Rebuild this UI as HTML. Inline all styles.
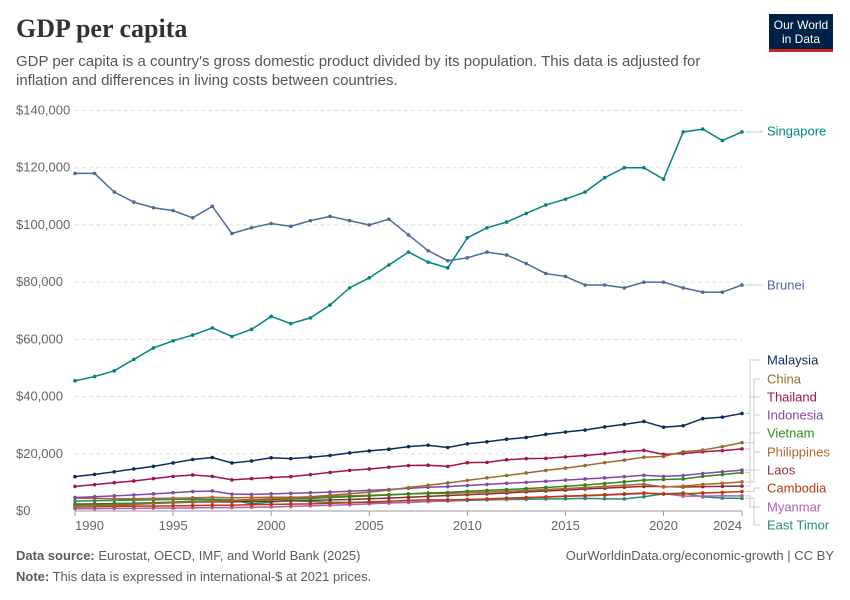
<!DOCTYPE html>
<html><head><meta charset="utf-8"><style>
body{margin:0;background:#fff;font-family:"Liberation Sans",sans-serif;}
#wrap{position:relative;width:850px;height:600px;overflow:hidden;}
</style></head><body>
<div id="wrap">
<div style="position:absolute;left:16px;top:14px;font-family:'Liberation Serif',serif;font-size:26px;font-weight:bold;color:#333;">GDP per capita</div>
<div style="position:absolute;left:16px;top:52px;width:720px;font-size:15px;line-height:19px;color:#555;">GDP per capita is a country's gross domestic product divided by its population. This data is adjusted for inflation and differences in living costs between countries.</div>
<div style="position:absolute;left:769px;top:14px;width:64px;height:38px;background:#002147;border-bottom:3px solid #ce261e;color:#fff;font-size:12px;line-height:14px;text-align:center;padding-top:4px;box-sizing:border-box;">Our World<br>in Data</div>
<svg id="chart" width="850" height="600" style="position:absolute;left:0;top:0"></svg>
<div style="position:absolute;left:16px;top:548px;font-size:13px;color:#5b5b5b;"><b>Data source:</b> Eurostat, OECD, IMF, and World Bank (2025)</div>
<div style="position:absolute;right:16px;top:548px;font-size:13px;color:#5b5b5b;">OurWorldinData.org/economic-growth | CC BY</div>
<div style="position:absolute;left:16px;top:569px;font-size:13px;color:#5b5b5b;"><b>Note:</b> This data is expressed in international-$ at 2021 prices.</div>
</div>
<script>
const years=[];for(let y=1990;y<=2024;y++)years.push(y);
const yTicks=[0,20000,40000,60000,80000,100000,120000,140000];
const xTicks=[1990,1995,2000,2005,2010,2015,2020,2024];
const singapore=[45.5,47,49,53,57,59.5,61.5,64,61,63.5,68,65.5,67.5,72,78,81.5,86,90.5,87,85,95.5,99,101,104,107,109,111.5,116.5,120,120,116,132.5,133.5,129.5,132.5];
const brunei=[118,118,111.5,108,106,105,102.5,106.5,97,99,100.5,99.5,101.5,103,101.5,100,102,96.5,91,87.5,88.5,90.5,89.5,86.5,83,82,79,79,78,80,80,78,76.5,76.5,79];
const malaysia=[12,12.8,13.7,14.7,15.6,16.8,18,18.7,16.8,17.5,18.6,18.3,18.8,19.4,20.3,21,21.6,22.5,23,22.2,23.5,24.2,25.1,25.7,26.8,27.6,28.3,29.4,30.3,31.3,29.3,29.8,32.3,32.8,34.1];
const china=[1.6,1.8,2,2.3,2.6,2.9,3.2,3.4,3.7,4,4.3,4.6,5,5.5,6,6.6,7.3,8.2,9,9.8,10.7,11.6,12.4,13.3,14.2,15,15.9,16.9,17.8,18.8,19.1,20.7,21.3,22.5,23.9];
const thailand=[8.6,9.2,9.9,10.5,11.3,12.1,12.6,12.1,10.9,11.3,11.7,12,12.7,13.5,14.2,14.7,15.3,15.9,16,15.6,16.9,17,17.9,18.3,18.4,18.9,19.4,20,20.8,21.2,19.8,20.1,20.7,21.1,21.7];
const indonesia=[4.7,5,5.3,5.6,6,6.4,6.8,7,5.9,5.8,6,6.2,6.4,6.6,6.9,7.2,7.5,7.9,8.3,8.5,8.9,9.3,9.7,10,10.4,10.8,11.2,11.6,12,12.5,12.1,12.4,13.1,13.7,14.3];
const vietnam=[2.2,2.3,2.5,2.7,2.9,3.1,3.4,3.6,3.7,3.8,4,4.2,4.4,4.7,5,5.3,5.6,6,6.3,6.5,6.9,7.2,7.5,7.8,8.2,8.6,9.1,9.6,10.2,10.8,11,11.2,12.1,12.7,13.4];
const philippines=[4.5,4.4,4.3,4.3,4.4,4.5,4.6,4.8,4.6,4.7,4.8,4.8,4.9,5.1,5.3,5.5,5.7,6,6.1,6.1,6.4,6.6,6.9,7.2,7.5,7.8,8.2,8.6,9,9.4,8.4,8.7,9.3,9.7,10.2];
const laos=[2.4,2.5,2.6,2.7,2.8,2.9,3.1,3.2,3.2,3.3,3.4,3.6,3.7,3.9,4,4.3,4.5,4.8,5.1,5.4,5.7,6,6.3,6.7,7,7.3,7.7,8,8.3,8.6,8.5,8.4,8.5,8.6,8.7];
const cambodia=[1.4,1.5,1.6,1.7,1.7,1.8,1.9,2,2,2.2,2.3,2.4,2.5,2.7,2.9,3.2,3.4,3.7,3.9,3.9,4,4.2,4.5,4.7,4.9,5.2,5.4,5.7,6,6.3,5.9,6,6.3,6.5,6.8];
const myanmar=[0.8,0.8,0.9,0.9,1,1,1.1,1.2,1.2,1.3,1.4,1.6,1.8,2,2.2,2.5,2.8,3.1,3.3,3.6,3.9,4.1,4.3,4.6,4.8,5.1,5.3,5.5,5.8,6.1,6.1,5.2,5.2,5.3,5.3];
const eastTimor=[3.5,3.6,3.7,3.8,3.9,4,4.1,4.1,3.9,2.5,3.2,3.6,3.3,3,3,3,2.8,3,3.3,3.5,3.7,3.9,4,4.1,4.2,4.3,4.4,4.3,4.2,5,6,6.3,5,4.5,4.4];
const seriesNames=["Singapore","Brunei","Malaysia","China","Thailand","Indonesia","Vietnam","Philippines","Laos","Cambodia","Myanmar","East Timor"];
const seriesData=[singapore,brunei,malaysia,china,thailand,indonesia,vietnam,philippines,laos,cambodia,myanmar,eastTimor];
const colors=["#00847e","#4c6a9c","#0d2c5b","#9a6a2f","#a2124d","#8349a4","#2c8a1a","#b2662b","#883039","#b93b0c","#b25eb8","#258f6a"];
const labelY=[131,285,360,379,397,415,433,452,470,488,507,525];

const NS="http://www.w3.org/2000/svg",svg=document.getElementById('chart');
const X0=75,X1=742,Y0=511,Y1=110.5;
const xs=y=>X0+(y-1990)/(2024-1990)*(X1-X0);
const ys=v=>Y0-v/140000*(Y0-Y1);
function mk(t,a){const e=document.createElementNS(NS,t);for(const k in a)e.setAttribute(k,a[k]);svg.appendChild(e);return e;}
yTicks.forEach(v=>{
 const g=mk('line',{x1:X0,x2:X1,y1:ys(v),y2:ys(v),stroke:v===0?'#999':'#ddd','stroke-dasharray':v===0?'':'4,3'});
 
 
 const t=mk('text',{x:16,y:ys(v)+4,'font-size':13,fill:'#666','font-family':'Liberation Sans'});
 t.textContent='$'+v.toLocaleString('en-US');
 
 
});
xTicks.forEach((yr,i)=>{
 const tk=mk('line',{x1:xs(yr),x2:xs(yr),y1:Y0,y2:Y0+5,stroke:'#999'});
 
 
 const anchor=i===0?'start':(i===xTicks.length-1?'end':'middle');
 const t=mk('text',{x:xs(yr),y:Y0+19,'font-size':13,fill:'#666','text-anchor':anchor,'font-family':'Liberation Sans'});
 t.textContent=yr;
 
 
});
for(let s=seriesData.length-1;s>=0;s--){
 const d=seriesData[s];
 const pts=d.map((v,i)=>xs(years[i])+','+ys(v*1000)).join(' ');
 const pl=mk('polyline',{points:pts,fill:'none',stroke:colors[s],'stroke-width':1.5});
 
 
 d.forEach((v,i)=>{
  const c=mk('circle',{cx:xs(years[i]),cy:ys(v*1000),r:1.8,fill:colors[s]});
  
  
 });
 const ey=ys(d[d.length-1]*1000);
 const ly=labelY[s];
 const bx=s<2?X1+20:750+(s%2)*4;
 const con=mk('polyline',{points:`${X1+3},${ey} ${bx},${ey} ${bx},${ly} 760,${ly}`,fill:'none',stroke:'#ccc','stroke-width':1});
 
 
 const t=mk('text',{x:767,y:ly+4.5,'font-size':13,fill:colors[s],'font-family':'Liberation Sans'});
 t.textContent=seriesNames[s];
 
 
}
</script>
</body></html>
